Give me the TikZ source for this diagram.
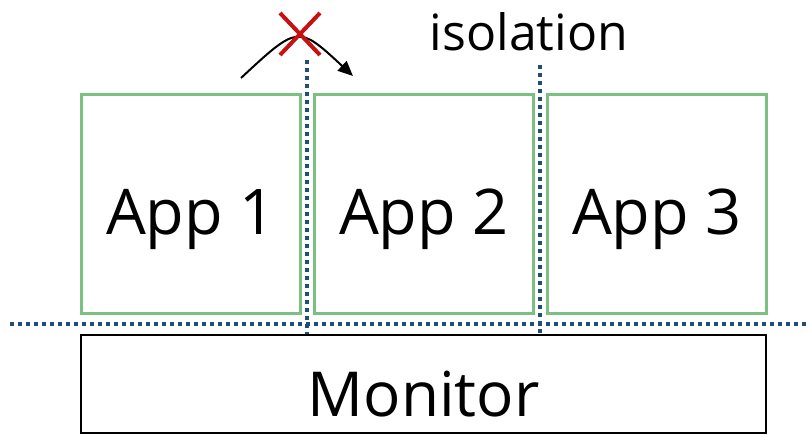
\documentclass[tikz,border=0pt]{standalone}
\usepackage{fontspec}
\setmainfont{Open Sans}
\usetikzlibrary{arrows.meta}
\definecolor{appgreen}{RGB}{122,192,128}
\definecolor{sepblue}{RGB}{31,78,121}
\definecolor{crossred}{RGB}{200,16,16}
\begin{document}
\begin{tikzpicture}[x=1pt,y=-1pt,
  appbox/.style={draw=appgreen,line width=2.6pt,minimum width=219pt,minimum height=219pt,
    anchor=north west,inner sep=0pt,text height=61pt,text depth=0pt,
    font=\fontsize{63}{70}\selectfont},
  monbox/.style={draw=black,line width=2.2pt,minimum width=685pt,minimum height=98pt,
    anchor=north west,inner sep=0pt,text height=64pt,text depth=0pt,
    font=\fontsize{62}{70}\selectfont},
  sepline/.style={draw=sepblue,line width=3.5pt,dash pattern=on 4pt off 4pt},
  crossline/.style={draw=crossred,line width=4pt}]
\useasboundingbox (0,0) rectangle (808,434);
% application boxes and the monitor below them
\node[appbox] (app1) at (80,93) {App 1};
\node[appbox] (app2) at (313,93) {App 2};
\node[appbox] (app3) at (546,93) {App 3};
\node[monbox] (mon) at (80,334) {Monitor};
% isolation boundaries
\coordinate (hl) at (10,324);
\coordinate (hr) at (808,324);
\coordinate (v1t) at (307,60);
\coordinate (v1b) at (307,334);
\coordinate (v2t) at (540,65);
\coordinate (v2b) at (540,334);
\draw[sepline] (hl) -- (hr);
\draw[sepline] (v1t) -- (v1b);
\draw[sepline] (v2t) -- (v2b);
\node[font=\fontsize{50}{54}\selectfont,anchor=base] (iso) at (529,50) {isolation};
% blocked crossing from App 1 into App 2
\coordinate (cs) at (241,78);
\coordinate (ce) at (353,76);
\draw[line width=2pt,-{Triangle[length=15pt,width=13pt]}] (cs) .. controls (298,25) .. (ce);
\coordinate (xc) at (300,34);
\draw[crossline] ([shift={(-20,-21)}]xc) -- ([shift={(20,21)}]xc);
\draw[crossline] ([shift={(20,-21)}]xc) -- ([shift={(-20,21)}]xc);
\end{tikzpicture}
\end{document}
